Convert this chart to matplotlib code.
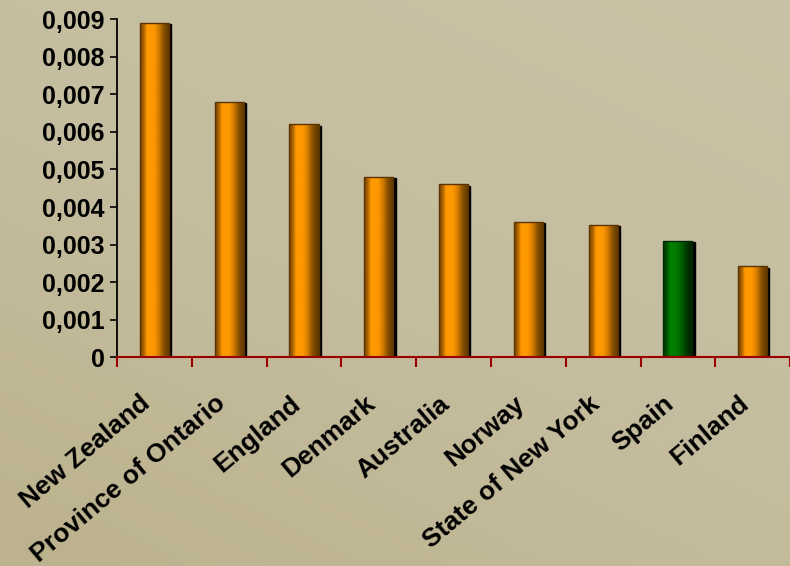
import numpy as np
import matplotlib.pyplot as plt
import matplotlib.transforms as mtransforms
from matplotlib.colors import LinearSegmentedColormap
from matplotlib.patches import Rectangle
from matplotlib.ticker import FuncFormatter, FixedLocator

# rates per country / region
countries = ["New Zealand", "Province of Ontario", "England", "Denmark",
             "Australia", "Norway", "State of New York", "Spain", "Finland"]
rates = [0.0089, 0.0068, 0.0062, 0.0048, 0.0046, 0.0036, 0.00353, 0.0031, 0.00242]
highlight = "Spain"

plt.rcParams["font.family"] = ["Liberation Sans", "DejaVu Sans"]
plt.rcParams["font.weight"] = "bold"

fig = plt.figure(figsize=(7.9, 5.66), dpi=100)

# beige backdrop with a soft gradient
bg = fig.add_axes([0, 0, 1, 1], zorder=-10)
bg_cmap = LinearSegmentedColormap.from_list("bg", ["#bcb28d", "#c5bd9f", "#c9c2a6"])
yy, xx = np.mgrid[0:1:200j, 0:1:200j]
bg.imshow(0.6 * yy + 0.4 * xx, cmap=bg_cmap, aspect="auto", extent=[0, 1, 0, 1],
          origin="lower")
bg.axis("off")

ax = fig.add_axes([0.1481, 0.3684, 0.852, 0.598])
ax.patch.set_alpha(0)

orange = LinearSegmentedColormap.from_list(
    "orange", ["#7a4300", "#ff9900", "#ff9900", "#d67d00", "#8a5200", "#5e3800"])
green = LinearSegmentedColormap.from_list(
    "green", ["#003300", "#008000", "#007a00", "#005c00", "#003a00", "#002000"])
grad = np.array([[0.0, 0.08, 0.22, 0.3, 0.45, 0.6, 0.75, 0.9, 1.0]])
grad = np.interp(np.linspace(0, 1, 60), np.linspace(0, 1, grad.shape[1]), grad[0])[None, :]

width = 0.39
shadow_tr = mtransforms.offset_copy(ax.transData, fig=fig, x=1.6, y=-1.0, units="points")

for i, (name, val) in enumerate(zip(countries, rates)):
    x0 = i - width / 2
    cmap = green if name == highlight else orange
    edge = "#002a00" if name == highlight else "#5a3300"
    ax.add_patch(Rectangle((x0, 0), width, val, facecolor="black",
                           edgecolor="black", lw=1, transform=shadow_tr, zorder=2))
    bar = ax.bar(i, val, width=width, color="none", edgecolor=edge, lw=1, zorder=4)[0]
    im = ax.imshow(grad, cmap=cmap, vmin=0, vmax=1, aspect="auto",
                   extent=[x0, x0 + width, 0, val], zorder=3)
    im.set_clip_path(bar)

ax.set_xlim(-0.5, len(countries) - 0.5)
ax.set_ylim(0, 0.009)

ax.spines["top"].set_visible(False)
ax.spines["right"].set_visible(False)
ax.spines["left"].set_color("black")
ax.spines["left"].set_linewidth(1.3)
ax.spines["bottom"].set_color("#9a0000")
ax.spines["bottom"].set_linewidth(1.5)
ax.spines["bottom"].set_zorder(5)

ax.set_yticks(np.arange(0, 0.0091, 0.001))
ax.yaxis.set_major_formatter(FuncFormatter(
    lambda v, p: "0" if abs(v) < 1e-9 else f"{v:.3f}".replace(".", ",")))
ax.tick_params(axis="y", direction="out", length=5, width=1.2, color="black",
               labelsize=18, pad=4)

ax.set_xticks(range(len(countries)))
ax.set_xticklabels(countries, rotation=40, ha="right", va="center",
                   rotation_mode="anchor", fontsize=19)
ax.tick_params(axis="x", which="major", length=0, pad=31)
ax.xaxis.set_minor_locator(FixedLocator(np.arange(-0.5, len(countries), 1.0)))
ax.tick_params(axis="x", which="minor", direction="out", length=7, width=1.5,
               color="#9a0000")

# nudge the rotated names a little to the left of the bar centres
shift = mtransforms.ScaledTranslation(-7 / 100, 0, fig.dpi_scale_trans)
for lbl in ax.get_xticklabels():
    lbl.set_transform(lbl.get_transform() + shift)

for lbl in ax.get_xticklabels() + ax.get_yticklabels():
    lbl.set_fontweight("bold")

fig.savefig("out.png", dpi=100)
